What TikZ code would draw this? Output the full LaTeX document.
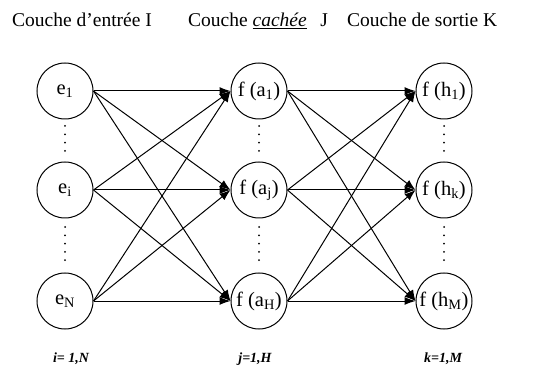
\documentclass[tikz,border=0pt]{standalone}
\usepackage{fontspec}
\setmainfont{Liberation Serif}
\usetikzlibrary{arrows.meta}
\begin{document}
\begin{tikzpicture}[x=1pt,y=-1pt,
  neuron/.style={circle,draw,line width=1pt,minimum size=56pt,inner sep=0pt,font=\fontsize{20.5}{22}\selectfont},
  conn/.style={line width=1pt,-{Latex[length=11pt,width=8pt]}},
  title/.style={anchor=base west,inner sep=0pt,font=\fontsize{19.5}{22}\selectfont},
  idx/.style={anchor=base,inner sep=0pt,font=\fontsize{14}{16}\selectfont\bfseries\itshape},
  dotline/.style={line width=2pt,line cap=round,dash pattern=on 0pt off 8.3pt}]
\useasboundingbox (0,0) rectangle (541,366);
% titles
\node[title] (tI) at (12,27) {Couche d'entrée I};
\node[title] (tJ) at (188,27) {Couche \underline{\textit{cachée}}\hspace{0.7em}J};
\node[title] (tK) at (347,27) {Couche de sortie K};
% neurons
\node[neuron] (e1) at (65,91) {e\textsubscript{1}};
\node[neuron] (ei) at (65,190) {e\textsubscript{i}};
\node[neuron] (eN) at (65,301) {e\textsubscript{N}};
\node[neuron] (a1) at (259,91) {f (a\textsubscript{1})};
\node[neuron] (aj) at (259,190) {f (a\textsubscript{j})};
\node[neuron] (aH) at (259,301) {f (a\textsubscript{H})};
\node[neuron] (h1) at (444,91) {f (h\textsubscript{1})};
\node[neuron] (hk) at (444,190) {f (h\textsubscript{k})};
\node[neuron] (hM) at (444,301) {f (h\textsubscript{M})};
% dots
\foreach \x in {65,259,444} {
  \draw[dotline] (\x,126) -- (\x,152);
  \draw[dotline] (\x,227) -- (\x,262);
}
% connections
\foreach \s in {e1,ei,eN} \foreach \t in {a1,aj,aH} \draw[conn] (\s.east) -- (\t.west);
\foreach \s in {a1,aj,aH} \foreach \t in {h1,hk,hM} \draw[conn] (\s.east) -- (\t.west);
% indices
\node[idx] (iI) at (71,362) {i= 1,N};
\node[idx] (iJ) at (255,362) {j=1,H};
\node[idx] (iK) at (443,362) {k=1,M};
\end{tikzpicture}
\end{document}
